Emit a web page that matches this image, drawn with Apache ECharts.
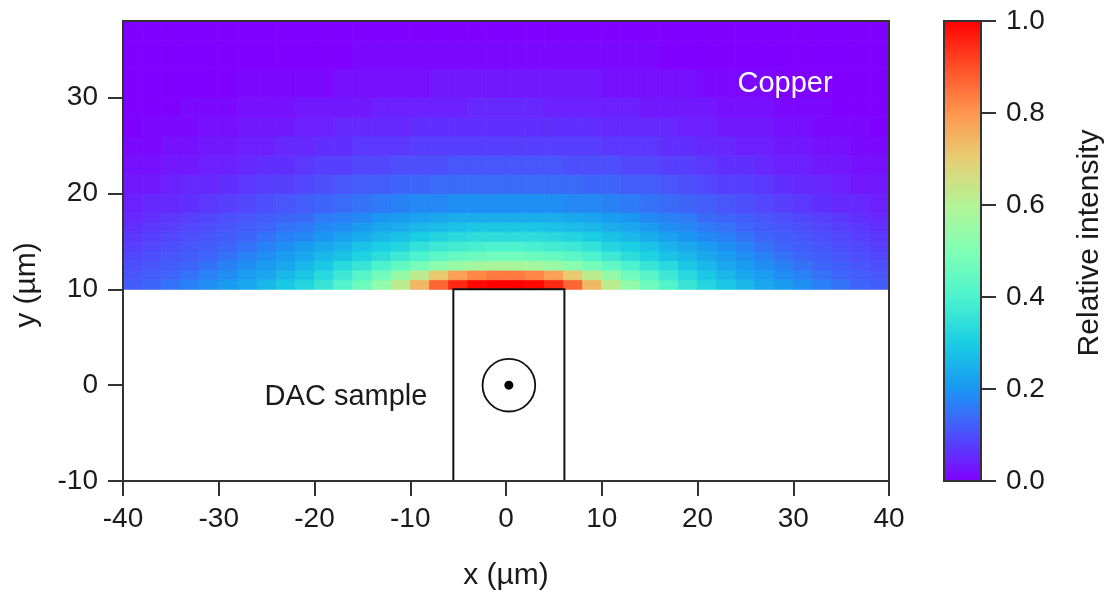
<!DOCTYPE html>
<html>
<head>
<meta charset="utf-8">
<title>Copper / DAC sample intensity</title>
<script src="https://cdn.jsdelivr.net/npm/echarts@6/dist/echarts.min.js"></script>
<style>
html, body { margin: 0; padding: 0; background: #fff; }
#main { width: 1104px; height: 592px; }
</style>
</head>
<body>
<div id="main"></div>
<script>
// cell edges of the intensity map (µm)
var xEdges = [-40,-38,-36,-34,-32,-30,-28,-26,-24,-22,-20,-18,-16,-14,-12,-10,-8,-6,-4,-2,0,
              2,4,6,8,10,12,14,16,18,20,22,24,26,28,30,32,34,36,38,40];
var yEdges = [10,11,12,13,14,15,16,17,18,20,22,24,26,28,30,33,36,38];

// relative intensity, one row per y band (bottom row first), columns follow xEdges
var intensity = [
  [0.12,0.13,0.15,0.17,0.19,0.21,0.23,0.26,0.29,0.32,0.36,0.41,0.46,0.53,0.62,0.74,0.87,0.95,0.99,1.00, 1.00,0.99,0.95,0.87,0.74,0.62,0.53,0.46,0.41,0.36,0.32,0.29,0.26,0.23,0.21,0.19,0.17,0.15,0.13,0.12],
  [0.11,0.12,0.13,0.15,0.17,0.19,0.21,0.23,0.26,0.29,0.33,0.37,0.42,0.47,0.54,0.62,0.71,0.78,0.82,0.84, 0.84,0.82,0.78,0.71,0.62,0.54,0.47,0.42,0.37,0.33,0.29,0.26,0.23,0.21,0.19,0.17,0.15,0.13,0.12,0.11],
  [0.10,0.11,0.12,0.13,0.15,0.17,0.19,0.21,0.23,0.26,0.29,0.33,0.36,0.40,0.44,0.48,0.52,0.55,0.57,0.58, 0.58,0.57,0.55,0.52,0.48,0.44,0.40,0.36,0.33,0.29,0.26,0.23,0.21,0.19,0.17,0.15,0.13,0.12,0.11,0.10],
  [0.09,0.10,0.11,0.12,0.13,0.15,0.17,0.19,0.21,0.23,0.26,0.28,0.31,0.34,0.37,0.40,0.43,0.45,0.46,0.47, 0.47,0.46,0.45,0.43,0.40,0.37,0.34,0.31,0.28,0.26,0.23,0.21,0.19,0.17,0.15,0.13,0.12,0.11,0.10,0.09],
  [0.08,0.09,0.10,0.11,0.12,0.13,0.15,0.17,0.19,0.21,0.23,0.25,0.28,0.30,0.32,0.35,0.37,0.38,0.39,0.40, 0.40,0.39,0.38,0.37,0.35,0.32,0.30,0.28,0.25,0.23,0.21,0.19,0.17,0.15,0.13,0.12,0.11,0.10,0.09,0.08],
  [0.07,0.08,0.09,0.10,0.11,0.12,0.13,0.15,0.17,0.18,0.20,0.22,0.24,0.26,0.28,0.30,0.32,0.33,0.34,0.34, 0.34,0.34,0.33,0.32,0.30,0.28,0.26,0.24,0.22,0.20,0.18,0.17,0.15,0.13,0.12,0.11,0.10,0.09,0.08,0.07],
  [0.06,0.07,0.08,0.09,0.10,0.11,0.12,0.13,0.15,0.16,0.18,0.19,0.21,0.23,0.24,0.26,0.27,0.28,0.29,0.29, 0.29,0.29,0.28,0.27,0.26,0.24,0.23,0.21,0.19,0.18,0.16,0.15,0.13,0.12,0.11,0.10,0.09,0.08,0.07,0.06],
  [0.05,0.06,0.07,0.08,0.09,0.10,0.11,0.12,0.13,0.14,0.16,0.17,0.18,0.20,0.21,0.22,0.23,0.24,0.24,0.24, 0.24,0.24,0.24,0.23,0.22,0.21,0.20,0.18,0.17,0.16,0.14,0.13,0.12,0.11,0.10,0.09,0.08,0.07,0.06,0.05],
  [0.04,0.05,0.05,0.06,0.07,0.08,0.09,0.10,0.11,0.12,0.13,0.14,0.15,0.16,0.17,0.18,0.18,0.19,0.19,0.19, 0.19,0.19,0.19,0.18,0.18,0.17,0.16,0.15,0.14,0.13,0.12,0.11,0.10,0.09,0.08,0.07,0.06,0.05,0.05,0.04],
  [0.03,0.03,0.04,0.05,0.05,0.06,0.07,0.08,0.08,0.09,0.10,0.11,0.12,0.12,0.13,0.13,0.14,0.14,0.14,0.14, 0.14,0.14,0.14,0.14,0.13,0.13,0.12,0.12,0.11,0.10,0.09,0.08,0.08,0.07,0.06,0.05,0.05,0.04,0.03,0.03],
  [0.02,0.02,0.03,0.03,0.04,0.04,0.05,0.06,0.06,0.07,0.08,0.08,0.09,0.09,0.10,0.10,0.10,0.11,0.11,0.11, 0.11,0.11,0.11,0.10,0.10,0.10,0.09,0.09,0.08,0.08,0.07,0.06,0.06,0.05,0.04,0.04,0.03,0.03,0.02,0.02],
  [0.01,0.01,0.02,0.02,0.03,0.03,0.04,0.04,0.05,0.05,0.06,0.06,0.07,0.07,0.07,0.08,0.08,0.08,0.08,0.08, 0.08,0.08,0.08,0.08,0.08,0.07,0.07,0.07,0.06,0.06,0.05,0.05,0.04,0.04,0.03,0.03,0.02,0.02,0.01,0.01],
  [0.00,0.01,0.01,0.01,0.02,0.02,0.03,0.03,0.03,0.04,0.04,0.05,0.05,0.05,0.05,0.06,0.06,0.06,0.06,0.06, 0.06,0.06,0.06,0.06,0.06,0.05,0.05,0.05,0.05,0.04,0.04,0.03,0.03,0.03,0.02,0.02,0.01,0.01,0.01,0.00],
  [0.00,0.00,0.00,0.01,0.01,0.01,0.02,0.02,0.02,0.03,0.03,0.03,0.03,0.04,0.04,0.04,0.04,0.04,0.05,0.05, 0.05,0.05,0.04,0.04,0.04,0.04,0.04,0.03,0.03,0.03,0.03,0.02,0.02,0.02,0.01,0.01,0.01,0.00,0.00,0.00],
  [0.00,0.00,0.00,0.00,0.00,0.00,0.01,0.01,0.01,0.01,0.01,0.02,0.02,0.02,0.02,0.02,0.03,0.03,0.03,0.03, 0.03,0.03,0.03,0.03,0.03,0.02,0.02,0.02,0.02,0.02,0.01,0.01,0.01,0.01,0.00,0.00,0.00,0.00,0.00,0.00],
  [0.00,0.00,0.00,0.00,0.00,0.00,0.00,0.00,0.00,0.00,0.00,0.00,0.01,0.01,0.01,0.01,0.01,0.01,0.01,0.01, 0.01,0.01,0.01,0.01,0.01,0.01,0.01,0.01,0.00,0.00,0.00,0.00,0.00,0.00,0.00,0.00,0.00,0.00,0.00,0.00],
  [0.00,0.00,0.00,0.00,0.00,0.00,0.00,0.00,0.00,0.00,0.00,0.00,0.00,0.00,0.00,0.00,0.00,0.00,0.00,0.00, 0.00,0.00,0.00,0.00,0.00,0.00,0.00,0.00,0.00,0.00,0.00,0.00,0.00,0.00,0.00,0.00,0.00,0.00,0.00,0.00]
];

// sample outline [x0, y0, x1, y1], pinhole [x, y, radius]
var sampleBox = [-5.5, -10, 6.1, 10];
var pinhole = [0.3, 0, 2.75];

var yTickValues = [-10, 0, 10, 20, 30];

// rainbow colour map
var rainbow = ['#8000ff','#4d4ffc','#1a96f3','#1acee3','#4df3ce','#80ffb4',
               '#b3f396','#e6ce74','#ff964f','#ff4f28','#ff0000'];

var cells = [];
for (var j = 0; j < intensity.length; j++) {
  for (var i = 0; i < intensity[j].length; i++) {
    cells.push([xEdges[i], xEdges[i + 1], yEdges[j], yEdges[j + 1], intensity[j][i]]);
  }
}

var font = 'Liberation Sans, Arial, Helvetica, sans-serif';
var ink = '#1a1a1a';
var frame = {color: '#333', width: 2};

var myChart = echarts.init(document.getElementById('main'));

myChart.setOption({
  animation: false,
  textStyle: {fontFamily: font},
  grid: [
    {left: 123, right: 215, top: 21, bottom: 111, outerBoundsMode: 'none', containLabel: false},
    {left: 944, top: 21, width: 37, height: 460, outerBoundsMode: 'none', containLabel: false}
  ],
  xAxis: [
    {
      type: 'value', gridIndex: 0, min: -40, max: 40, interval: 10,
      name: 'x (µm)', nameLocation: 'middle', nameGap: 80,
      nameTextStyle: {fontSize: 30, color: ink, fontFamily: font},
      axisLine: {onZero: false, lineStyle: frame},
      axisTick: {length: 15, lineStyle: frame},
      axisLabel: {fontSize: 28, color: ink, margin: 24, fontFamily: font},
      splitLine: {show: false},
      z: 5
    },
    {
      type: 'value', gridIndex: 0, position: 'top', min: -40, max: 40,
      axisLine: {onZero: false, lineStyle: frame},
      axisTick: {show: false}, axisLabel: {show: false}, splitLine: {show: false},
      z: 5
    },
    {type: 'value', gridIndex: 1, min: 0, max: 1, show: false}
  ],
  yAxis: [
    {
      type: 'value', gridIndex: 0, min: -10, max: 38,
      axisLine: {onZero: false, lineStyle: frame},
      axisTick: {length: 15, lineStyle: frame, customValues: yTickValues},
      axisLabel: {fontSize: 28, color: ink, margin: 25, fontFamily: font, customValues: yTickValues},
      splitLine: {show: false},
      z: 5
    },
    {
      type: 'value', gridIndex: 0, position: 'right', min: -10, max: 38,
      axisLine: {onZero: false, lineStyle: frame},
      axisTick: {show: false}, axisLabel: {show: false}, splitLine: {show: false},
      z: 5
    },
    {
      // colour bar scale
      type: 'value', gridIndex: 1, position: 'right', min: 0, max: 1, interval: 0.2,
      axisLine: {show: true, onZero: false, lineStyle: frame},
      axisTick: {show: true, length: 15, lineStyle: frame},
      axisLabel: {fontSize: 28, color: ink, margin: 25, fontFamily: font,
        formatter: function (v) { return v.toFixed(1); }},
      splitLine: {show: false},
      z: 5
    }
  ],
  visualMap: {
    type: 'continuous',
    min: 0, max: 1,
    dimension: 4,
    seriesIndex: 0,
    calculable: false,
    hoverLink: false,
    left: 944, top: 21,
    itemWidth: 37, itemHeight: 460,
    padding: 0,
    inRange: {color: rainbow}
  },
  graphic: [
    {type: 'rect', z: 100, shape: {x: 944, y: 21, width: 37, height: 460},
     style: {fill: 'none', stroke: '#333', lineWidth: 2}},
    {type: 'text', x: 27, y: 285, rotation: Math.PI / 2, z: 100,
     style: {text: 'y (µm)', font: '30px ' + font, fill: ink, textAlign: 'center', textVerticalAlign: 'middle'}},
    {type: 'text', x: 1090, y: 243, rotation: Math.PI / 2, z: 100,
     style: {text: 'Relative intensity', font: '30px ' + font, fill: ink, textAlign: 'center', textVerticalAlign: 'middle'}},
    {type: 'text', x: 785, y: 84, z: 100,
     style: {text: 'Copper', font: '29px ' + font, fill: '#fff', textAlign: 'center', textVerticalAlign: 'middle'}},
    {type: 'text', x: 346, y: 397, z: 100,
     style: {text: 'DAC sample', font: '29px ' + font, fill: ink, textAlign: 'center', textVerticalAlign: 'middle'}}
  ],
  series: [
    {
      // intensity map above the sample
      type: 'custom',
      xAxisIndex: 0, yAxisIndex: 0,
      data: cells,
      encode: {x: [0, 1], y: [2, 3]},
      z: 1,
      renderItem: function (params, api) {
        var p0 = api.coord([api.value(0), api.value(3)]);
        var p1 = api.coord([api.value(1), api.value(2)]);
        var c = api.visual('color');
        return {
          type: 'rect',
          shape: {x: p0[0], y: p0[1], width: p1[0] - p0[0], height: p1[1] - p0[1]},
          style: {fill: c, stroke: c, lineWidth: 0.8}
        };
      }
    },
    {
      type: 'custom',
      xAxisIndex: 0, yAxisIndex: 0,
      data: [sampleBox],
      encode: {x: [0, 2], y: [1, 3]},
      z: 3,
      renderItem: function (params, api) {
        var p0 = api.coord([api.value(0), api.value(3)]);
        var p1 = api.coord([api.value(2), api.value(1)]);
        return {
          type: 'rect',
          shape: {x: p0[0], y: p0[1], width: p1[0] - p0[0], height: p1[1] - p0[1]},
          style: {fill: 'none', stroke: '#111', lineWidth: 2}
        };
      }
    },
    {
      type: 'custom',
      xAxisIndex: 0, yAxisIndex: 0,
      data: [pinhole],
      encode: {x: 0, y: 1},
      z: 3,
      renderItem: function (params, api) {
        var c = api.coord([api.value(0), api.value(1)]);
        var r = api.size([api.value(2), 0])[0];
        return {
          type: 'circle',
          shape: {cx: c[0], cy: c[1], r: r},
          style: {fill: 'none', stroke: '#111', lineWidth: 1.8}
        };
      }
    },
    {
      type: 'scatter',
      xAxisIndex: 0, yAxisIndex: 0,
      data: [[pinhole[0], pinhole[1]]],
      symbol: 'circle',
      symbolSize: 9,
      itemStyle: {color: '#000', opacity: 1},
      z: 4,
      silent: true
    }
  ]
});
</script>
</body>
</html>
